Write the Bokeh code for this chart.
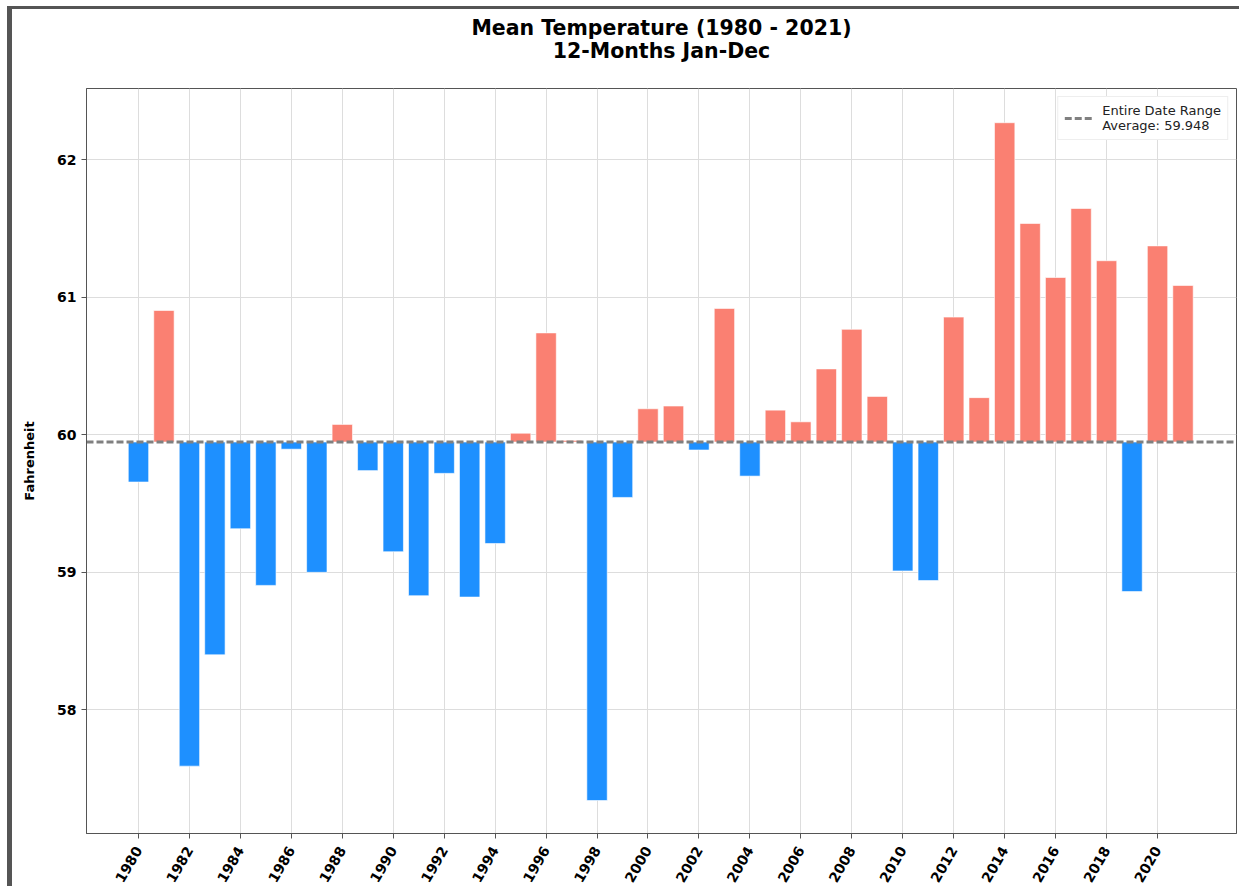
import math
from bokeh.plotting import figure
from bokeh.models import ColumnDataSource, Title, FixedTicker, Legend, LegendItem
from bokeh.embed import file_html
from bokeh.resources import INLINE

years = list(range(1980, 2022))
temps = [59.657, 60.905, 57.59, 58.40, 59.317, 58.905, 59.896, 59.0, 60.076, 59.74,
         59.15, 58.83, 59.72, 58.82, 59.21, 60.012, 60.742, 59.96, 57.34, 59.545,
         60.19, 60.21, 59.89, 60.92, 59.70, 60.18, 60.095, 60.48, 60.768, 60.28,
         59.01, 58.94, 60.857, 60.271, 62.271, 61.538, 61.145, 61.647, 61.267, 58.86,
         61.375, 61.087]
average = 59.948
x_ticks = list(range(1980, 2021, 2))
y_ticks = [58, 59, 60, 61, 62]
title_main = "Mean Temperature (1980 - 2021)"
title_sub = "12-Months Jan-Dec"
legend_label = "Entire Date Range\nAverage: 59.948"

X_START, X_END = 1977.96, 2023.1
Y_START, Y_END = 57.10, 62.52

colors = ["#FA8072" if t >= average else "#1E90FF" for t in temps]
src = ColumnDataSource(dict(x=years, top=temps, bottom=[average] * len(years), color=colors))

p = figure(width=1232, height=880, output_backend="svg", toolbar_location=None,
           x_range=(X_START, X_END), y_range=(Y_START, Y_END),
           min_border_left=74, min_border_right=8, min_border_top=79, min_border_bottom=54,
           styles={"border-left": "5px solid #555555", "border-top": "3px solid #555555",
                   "margin-left": "7px", "margin-top": "6px"})

p.add_layout(Title(text=title_sub, align="center", text_font="DejaVu Sans",
                   text_font_size="20.5px", text_font_style="bold", text_color="black",
                   standoff=52, offset=-18), "above")
p.add_layout(Title(text=title_main, align="center", text_font="DejaVu Sans",
                   text_font_size="20.5px", text_font_style="bold", text_color="black",
                   standoff=-58, offset=-18), "above")

p.vbar(x="x", top="top", bottom="bottom", width=0.8, fill_color="color",
       line_color="white", line_width=0.6, source=src)

avg_line = p.line(x=[X_START, X_END], y=[average, average], line_color="#808080",
                  line_width=3, line_dash="7 3")

legend = Legend(items=[LegendItem(label=legend_label, renderers=[avg_line])],
                location="top_right", label_text_font="DejaVu Sans", label_text_font_size="13px",
                label_text_color="#222222", border_line_color="#dddddd", border_line_width=1,
                background_fill_alpha=1.0, glyph_width=30, padding=6, spacing=0,
                label_standoff=8, margin=8, label_height=16)
p.add_layout(legend)

p.xaxis.ticker = FixedTicker(ticks=x_ticks)
p.yaxis.ticker = FixedTicker(ticks=y_ticks)
p.xaxis.major_label_orientation = math.pi / 3
p.xaxis.major_label_standoff = 9
for ax in (p.xaxis, p.yaxis):
    ax.major_label_text_font = "DejaVu Sans"
    ax.major_label_text_font_size = "14px"
    ax.major_label_text_font_style = "bold"
    ax.major_label_text_color = "black"
    ax.minor_tick_line_color = None
    ax.major_tick_in = 0
    ax.major_tick_out = 5
    ax.axis_line_color = "#555555"
    ax.major_tick_line_color = "#555555"
p.yaxis.axis_label = "Fahrenheit"
p.yaxis.axis_label_text_font = "DejaVu Sans"
p.yaxis.axis_label_text_font_size = "13px"
p.yaxis.axis_label_text_font_style = "bold"
p.yaxis.axis_label_text_color = "black"
p.yaxis.axis_label_standoff = 17

p.xgrid.ticker = FixedTicker(ticks=x_ticks)
p.grid.grid_line_color = "#dddddd"
p.grid.grid_line_width = 1
p.outline_line_color = "#555555"
p.outline_line_width = 1
p.background_fill_color = "white"
p.border_fill_color = "white"

open("out.html", "w").write(file_html(p, INLINE))
